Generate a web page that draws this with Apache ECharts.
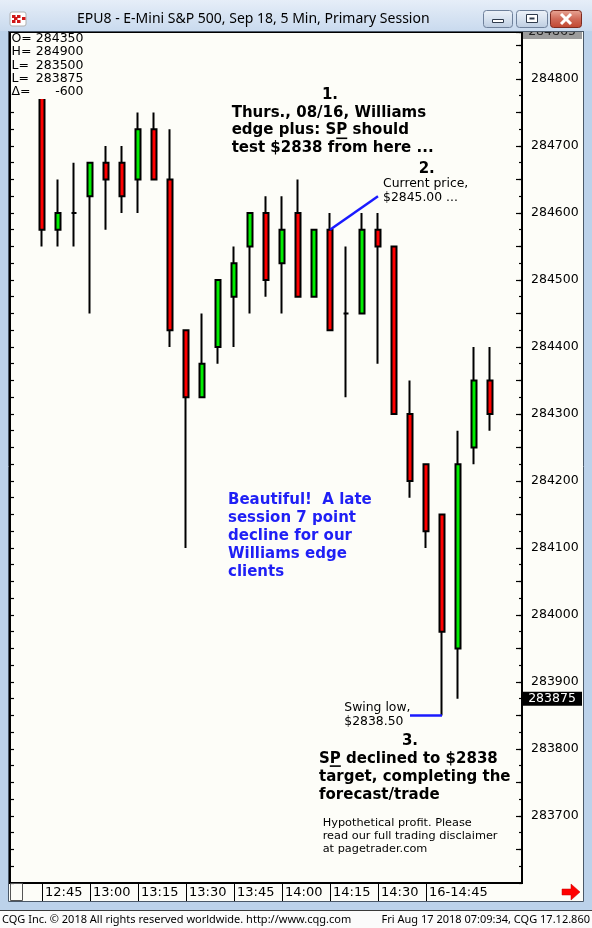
<!DOCTYPE html>
<html><head><meta charset="utf-8">
<script src="https://cdn.jsdelivr.net/npm/echarts@6/dist/echarts.min.js"></script>
<style>html,body{margin:0;padding:0;background:#bcd2ea;overflow:hidden}#c{width:592px;height:928px}</style>
</head><body><div id="c"></div>
<script>
// ---- data ----
const categories = ['12:35','12:40','12:45','12:50','12:55','13:00','13:05','13:10','13:15','13:20','13:25','13:30','13:35','13:40','13:45','13:50','13:55','14:00','14:05','14:10','14:15','14:20','14:25','14:30','14:35','14:40','14:45','14:50','14:55','15:00','15:05','15:10','15:15'];
const barTimes = ['12:45','12:50','12:55','13:00','13:05','13:10','13:15','13:20','13:25','13:30','13:35','13:40','13:45','13:50','13:55','14:00','14:05','14:10','14:15','14:20','14:25','14:30','14:35','14:40','14:45','14:50','14:55','15:00','15:05'];
const opens  = [2848.00,2845.75,2846.00,2846.25,2846.75,2846.75,2846.50,2847.25,2846.50,2844.25,2843.25,2844.00,2844.75,2845.50,2846.00,2845.25,2846.00,2844.75,2845.75,2844.50,2844.50,2845.75,2845.50,2843.00,2842.25,2841.50,2839.50,2842.50,2843.50];
const closes = [2845.75,2846.00,2846.00,2846.75,2846.50,2846.25,2847.25,2846.50,2844.25,2843.25,2843.75,2845.00,2845.25,2846.00,2845.00,2845.75,2844.75,2845.75,2844.25,2844.50,2845.75,2845.50,2843.00,2842.00,2841.25,2839.75,2842.25,2843.50,2843.00];
const lows   = [2845.50,2845.50,2845.50,2844.50,2845.75,2846.00,2846.00,2846.50,2844.00,2841.00,2843.25,2843.75,2844.00,2844.50,2844.75,2844.50,2844.75,2844.75,2844.25,2843.25,2844.50,2843.75,2843.00,2841.75,2841.00,2838.50,2838.75,2842.25,2842.75];
const highs  = [2848.00,2846.50,2846.75,2846.75,2847.00,2847.00,2847.50,2847.50,2847.25,2844.25,2844.50,2845.00,2845.50,2846.00,2846.25,2846.25,2846.50,2845.75,2846.00,2845.50,2846.00,2846.00,2845.50,2843.50,2842.25,2841.50,2842.75,2844.00,2844.00];
const tickLabels = {'12:45':'12:45','13:00':'13:00','13:15':'13:15','13:30':'13:30','13:45':'13:45','14:00':'14:00','14:15':'14:15','14:30':'14:30','14:45':'16-14:45'};
const yMin = 2836.00, yMax = 2848.70;
const lastPrice = 2838.75;
const topBoxValue = '284865';
const ohlcLabels = ['O=','H=','L=','L=','\u0394='];
const ohlcValues = ['284350','284900','283500','283875','-600'];
const currentPriceLine = [['14:15',2845.75],['14:30',2846.25]];
const swingLowLine = [['14:40',2838.50],['14:50',2838.50]];

// ---- build ----
const candleData = categories.map(t => {
  const i = barTimes.indexOf(t);
  return i < 0 ? '-' : [opens[i], closes[i], lows[i], highs[i]];
});
const toIdx = pts => pts.map(p => [categories.indexOf(p[0]), p[1]]);
const isTick = (idx) => tickLabels[categories[idx]] !== undefined;

const PLOT_BG = '#fdfdf8';
const FONT = '"DejaVu Sans", Verdana, sans-serif';
const mctx = document.createElement('canvas').getContext('2d');
function tw(text, font){ mctx.font = font; return mctx.measureText(text).width; }

const chart = echarts.init(document.getElementById('c'), null, {renderer:'canvas'});
const yCommon = {type:'value', min:yMin, max:yMax, splitLine:{show:false}, scale:true};

function txt(x, y, text, font, fill, extra){
  return Object.assign({type:'text', z:60, silent:true, style:Object.assign({x:x, y:y, text:text, font:font, fill:fill,
    align:'left', textAlign:'left', verticalAlign:'middle', textVerticalAlign:'middle'}, extra||{})});
}
function mtxt(x, firstCenter, lh, text, font, fill){
  return txt(x, firstCenter - lh/2, text, font, fill, {verticalAlign:'top', textVerticalAlign:'top', lineHeight:lh});
}

const boldF = 'bold 15px ' + FONT;
const regF = '12.4px ' + FONT;
const smallF = '11.3px ' + FONT;
const blue = '#1f1ff5';

const graphics = [];
// client area
graphics.push({type:'rect', z:-10, silent:true, shape:{x:8.5,y:31.5,width:575,height:870}, style:{fill:PLOT_BG, stroke:'#4a5868', lineWidth:1}});
// status bar
graphics.push({type:'rect', z:-10, silent:true, shape:{x:0,y:910,width:592,height:18}, style:{fill:'#fbfbfb'}});
graphics.push({type:'line', z:-9, silent:true, shape:{x1:0,y1:910.5,x2:592,y2:910.5}, style:{stroke:'#3a3a3a', lineWidth:1}});
graphics.push(txt(2, 919.5, 'CQG Inc. \u00a9 2018 All rights reserved worldwide. http://www.cqg.com', '11px "Noto Sans", sans-serif', '#000'));
graphics.push(txt(590, 919.5, 'Fri Aug 17 2018 07:09:34, CQG 17.12.860', '11px "Noto Sans", sans-serif', '#000', {align:'right', textAlign:'right'}));
// small box left of time strip
graphics.push({type:'rect', z:5, silent:true, shape:{x:10.5,y:883.5,width:12,height:17}, style:{fill:'none', stroke:'#555', lineWidth:1}});
// red arrow
graphics.push({type:'polygon', z:5, silent:true, shape:{points:[[562,889],[571,889],[571,884],[580,892],[571,900],[571,895],[562,895]]}, style:{fill:'#ff0000', stroke:'#c00000', lineWidth:0.5}});
// gray box at top of price axis
graphics.push({type:'rect', z:5, silent:true, shape:{x:523,y:32,width:59,height:7}, style:{fill:'#9c9c9c'}});
graphics.push(txt(552, 31.5, topBoxValue, '12.5px ' + FONT, '#222', {align:'center', textAlign:'center'}));
// title bar (on top to clip)
graphics.push({type:'rect', z:120, silent:true, shape:{x:0,y:0,width:592,height:31}, style:{fill:new echarts.graphic.LinearGradient(0,0,0,1,[{offset:0,color:'#e6eef8'},{offset:1,color:'#c9daee'}])}});
graphics.push({type:'line', z:121, silent:true, shape:{x1:8,y1:31.5,x2:584,y2:31.5}, style:{stroke:'#4a5868', lineWidth:1}});
graphics.push(txt(77, 19.5, 'EPU8 - E-Mini S&P 500, Sep 18, 5 Min, Primary Session', '14px "Noto Sans", sans-serif', '#000', {}));
graphics[graphics.length-1].z = 125;
// app icon
graphics.push({type:'rect', z:125, silent:true, shape:{x:10,y:12,width:16,height:14,r:2}, style:{fill:'#fff', stroke:'#b0b0b0', lineWidth:1}});
[[12,15],[17,15],[22,17],[12,20],[17,20],[14,17]].forEach(p=>graphics.push({type:'rect', z:126, silent:true, shape:{x:p[0],y:p[1],width:3.5,height:3}, style:{fill:'#d01818'}}));
// window buttons
const btnGrad = () => new echarts.graphic.LinearGradient(0,0,0,1,[{offset:0,color:'#eef3f9'},{offset:0.5,color:'#d7e2ef'},{offset:1,color:'#bccce0'}]);
graphics.push({type:'rect', z:125, silent:true, shape:{x:483.5,y:10.5,width:29,height:17,r:3}, style:{fill:btnGrad(), stroke:'#6f819b', lineWidth:1}});
graphics.push({type:'rect', z:126, silent:true, shape:{x:492.5,y:19.5,width:11,height:3}, style:{fill:'#fff', stroke:'#2f3b4c', lineWidth:1}});
graphics.push({type:'rect', z:125, silent:true, shape:{x:516.5,y:10.5,width:31,height:17,r:3}, style:{fill:btnGrad(), stroke:'#6f819b', lineWidth:1}});
graphics.push({type:'rect', z:126, silent:true, shape:{x:526.5,y:14.5,width:11,height:8}, style:{fill:'#fff', stroke:'#2f3b4c', lineWidth:1}});
graphics.push({type:'rect', z:127, silent:true, shape:{x:529.5,y:17.5,width:5,height:2}, style:{fill:'#2f3b4c'}});
graphics.push({type:'rect', z:125, silent:true, shape:{x:550.5,y:10.5,width:31,height:17,r:3}, style:{fill:new echarts.graphic.LinearGradient(0,0,0,1,[{offset:0,color:'#e9a898'},{offset:0.5,color:'#d06a58'},{offset:1,color:'#c0452f'}]), stroke:'#7d2b20', lineWidth:1}});
graphics.push({type:'line', z:126, silent:true, shape:{x1:561,y1:14,x2:571,y2:24}, style:{stroke:'#fff', lineWidth:3}});
graphics.push({type:'line', z:126, silent:true, shape:{x1:571,y1:14,x2:561,y2:24}, style:{stroke:'#fff', lineWidth:3}});

// OHLC readout box (covers top of plot)
graphics.push({type:'rect', z:50, silent:true, shape:{x:11,y:33,width:80,height:66}, style:{fill:PLOT_BG}});
ohlcLabels.forEach((l,i)=>{
  const cy = 39 + i*13.2;
  graphics.push(txt(11.5, cy, l, '12.5px ' + FONT, '#000'));
  graphics.push(txt(83.5, cy, ohlcValues[i], '12.5px ' + FONT, '#000', {align:'right', textAlign:'right'}));
});

// annotations
graphics.push(txt(330, 95, '1.', boldF, '#000', {align:'center', textAlign:'center'}));
graphics.push(mtxt(231.7, 113, 17.5, 'Thurs., 08/16, Williams\nedge plus: SP should\ntest $2838 from here ...', boldF, '#000'));
{
  const x0 = 231.7 + tw('edge plus: S', boldF), w = tw('P', boldF);
  graphics.push({type:'rect', z:60, silent:true, shape:{x:x0, y:137.5, width:w, height:1.6}, style:{fill:'#000'}});
}
graphics.push(txt(426.7, 169, '2.', boldF, '#000', {align:'center', textAlign:'center'}));
graphics.push(mtxt(383, 184, 13.3, 'Current price,\n$2845.00 ...', regF, '#000'));
graphics.push(mtxt(228, 500, 18, 'Beautiful!  A late\nsession 7 point\ndecline for our\nWilliams edge\nclients', boldF, blue));
graphics.push(mtxt(344.3, 708, 13.3, 'Swing low,\n$2838.50', regF, '#000'));
graphics.push(txt(410, 741.3, '3.', boldF, '#000', {align:'center', textAlign:'center'}));
graphics.push(mtxt(319, 758.7, 18, 'SP declined to $2838\ntarget, completing the\nforecast/trade', boldF, '#000'));
{
  const x0 = 319 + tw('S', boldF), w = tw('P', boldF);
  graphics.push({type:'rect', z:60, silent:true, shape:{x:x0, y:765.3, width:w, height:1.6}, style:{fill:'#000'}});
}
graphics.push(mtxt(322.7, 823, 13, 'Hypothetical profit. Please\nread our full trading disclaimer\nat pagetrader.com', smallF, '#000'));

const option = {
  animation:false,
  grid:{left:10, right:70, top:32, bottom:45, show:true, borderColor:'#000', borderWidth:2, backgroundColor:'transparent', containLabel:false, outerBoundsMode:'none'},
  xAxis:{type:'category', data:categories, boundaryGap:false,
    axisLine:{show:true, lineStyle:{color:'#000', width:2}},
    axisTick:{show:true, interval:(i)=>isTick(i), length:18, lineStyle:{color:'#000', width:1}},
    axisLabel:{interval:(i)=>isTick(i), formatter:(v)=>tickLabels[v]||'', align:'left', padding:[0,0,0,3], margin:3, color:'#000', fontSize:13, fontFamily:FONT},
    splitLine:{show:false}},
  yAxis:[
    Object.assign({}, yCommon, {position:'right', interval:0.25,
      axisLine:{show:true, lineStyle:{color:'#000', width:2}},
      axisTick:{show:true, inside:true, length:3, lineStyle:{color:'#000', width:1.2}},
      axisLabel:{show:false}}),
    Object.assign({}, yCommon, {position:'right', interval:0.5,
      axisLine:{show:false},
      axisTick:{show:true, inside:true, length:6, lineStyle:{color:'#000', width:1.2}},
      axisLabel:{show:true, margin:9, color:'#000', fontSize:12.5, fontFamily:FONT, showMinLabel:false,
        formatter:(v)=> (v > yMin + 1e-6 && Math.abs(v - Math.round(v)) < 1e-6) ? String(Math.round(v*100)) : ''}}),
    Object.assign({}, yCommon, {position:'left', interval:0.25,
      axisLine:{show:true, lineStyle:{color:'#000', width:2}},
      axisTick:{show:true, inside:true, length:4, lineStyle:{color:'#000', width:1.2}},
      axisLabel:{show:false}})
  ],
  series:[
    {type:'candlestick', name:'EPU8', data:candleData, barWidth:6, yAxisIndex:0,
      itemStyle:{color:'#00ee00', color0:'#ff0000', borderColor:'#000', borderColor0:'#000', borderColorDoji:'#000', borderWidth:2},
      emphasis:{disabled:true}},
    {type:'line', data:toIdx(currentPriceLine), yAxisIndex:0, symbol:'none', silent:true, z:5, lineStyle:{color:'#1a1aff', width:2.5}},
    {type:'line', data:toIdx(swingLowLine), yAxisIndex:0, symbol:'none', silent:true, z:5, lineStyle:{color:'#1a1aff', width:2.5}}
  ],
  graphic:graphics
};
chart.setOption(option);

// last-price marker on the price axis
const ly = chart.convertToPixel({yAxisIndex:0}, lastPrice);
chart.setOption({graphic: graphics.concat([
  {type:'rect', z:60, silent:true, shape:{x:522, y:ly-7, width:60, height:14}, style:{fill:'#000'}},
  txt(552, ly, String(Math.round(lastPrice*100)), '12.5px ' + FONT, '#fff', {align:'center', textAlign:'center'})
])}, {replaceMerge:['graphic']});
</script></body></html>
